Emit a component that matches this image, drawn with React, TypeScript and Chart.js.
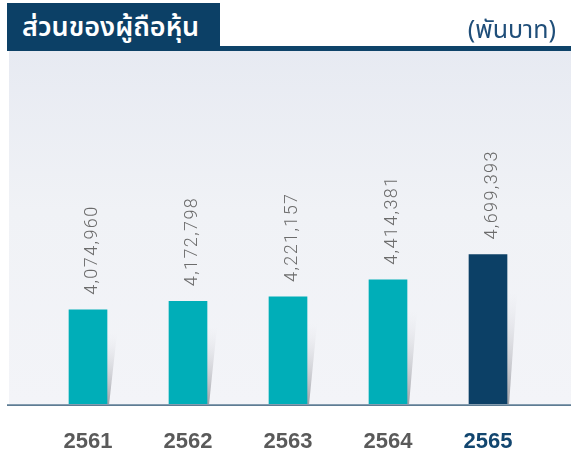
import React, { useEffect, useRef } from "react";
import { Chart, registerables } from "chart.js";

Chart.register(...registerables);

const TITLE = "ส่วนของผู้ถือหุ้น";
const UNIT = "(พันบาท)";
const years = ["2561", "2562", "2563", "2564", "2565"];
const equity = [4074960, 4172798, 4221157, 4414381, 4699393];
const barColors = ["#00AEB8", "#00AEB8", "#00AEB8", "#00AEB8", "#0C4066"];
const tickColors = ["#5a5a5a", "#5a5a5a", "#5a5a5a", "#5a5a5a", "#12466F"];
const Y_MIN = 3000000;
const Y_MAX = 7000000;

const NAVY = "#0C4066";

const decorPlugin = {
  id: "decor",
  beforeDraw(chart: any) {
    const { ctx, chartArea } = chart;
    ctx.save();
    const g = ctx.createLinearGradient(0, 51, 0, chartArea.bottom);
    g.addColorStop(0, "#E7EAF2");
    g.addColorStop(0.45, "#F0F2F6");
    g.addColorStop(1, "#F3F4F8");
    ctx.fillStyle = g;
    ctx.fillRect(9, 51, chart.width - 9, chartArea.bottom - 51);
    ctx.restore();
  },
  beforeDatasetsDraw(chart: any) {
    const { ctx, chartArea } = chart;
    const meta = chart.getDatasetMeta(0);
    ctx.save();
    meta.data.forEach((el: any) => {
      const r = el.x + el.width / 2;
      const b = Math.min(el.base, chartArea.bottom);
      const h = b - el.y;
      const sTop = el.y + 0.25 * h;
      const g = ctx.createLinearGradient(r, b, r + 9, sTop);
      g.addColorStop(0, "rgba(140,140,146,0.8)");
      g.addColorStop(0.6, "rgba(190,190,196,0.35)");
      g.addColorStop(1, "rgba(220,220,226,0)");
      ctx.fillStyle = g;
      ctx.beginPath();
      ctx.moveTo(r, sTop);
      ctx.lineTo(r + 10, sTop);
      ctx.lineTo(r + 2, b);
      ctx.lineTo(r, b);
      ctx.closePath();
      ctx.fill();
    });
    ctx.restore();
  },
  afterDatasetsDraw(chart: any) {
    const { ctx, chartArea } = chart;
    const meta = chart.getDatasetMeta(0);
    ctx.save();
    // baseline
    ctx.fillStyle = "#5E7C93";
    ctx.fillRect(7, chartArea.bottom - 1, chart.width - 7, 2);
    ctx.fillStyle = "#9FB2C2";
    ctx.fillRect(7, chartArea.bottom - 1, chart.width - 7, 0.6);
    // value labels
    ctx.fillStyle = "#6c6c6c";
    ctx.font = "300 18px Roboto, 'Liberation Sans', sans-serif";
    try {
      (ctx as any).letterSpacing = "1.4px";
    } catch (e) {}
    ctx.textAlign = "left";
    ctx.textBaseline = "alphabetic";
    meta.data.forEach((el: any, i: number) => {
      const v = equity[i];
      const label = v.toLocaleString("en-US");
      ctx.save();
      ctx.translate(el.x + 9, el.y - 15);
      ctx.rotate(-Math.PI / 2);
      ctx.fillText(label, 0, 0);
      ctx.restore();
    });
    ctx.restore();
  },
};

function ChartCanvas() {
  const ref = useRef<HTMLCanvasElement | null>(null);
  useEffect(() => {
    if (!ref.current) return;
    const chart = new Chart(ref.current, {
      type: "bar",
      data: {
        labels: years,
        datasets: [
          {
            data: equity,
            backgroundColor: barColors,
            borderWidth: 0,
            barThickness: 38,
          },
        ],
      },
      options: {
        animation: false,
        responsive: false,
        devicePixelRatio: 1,
        layout: { padding: { left: 38, right: 33, top: 51, bottom: 0 } },
        plugins: {
          legend: { display: false },
          tooltip: { enabled: false },
          title: { display: false },
        },
        scales: {
          x: {
            grid: { display: false, drawTicks: false },
            border: { display: false },
            ticks: {
              padding: 24,
              color: (c: any) => tickColors[c.index] || "#5a5a5a",
              font: { family: "'Liberation Sans', Arial, sans-serif", size: 22, weight: "bold" },
            },
            afterFit: (scale: any) => {
              scale.height = 48;
            },
          },
          y: {
            display: false,
            min: Y_MIN,
            max: Y_MAX,
          },
        },
      },
      plugins: [decorPlugin],
    });
    return () => chart.destroy();
  }, []);
  return <canvas ref={ref} width={571} height={453} style={{ position: "absolute", left: 0, top: 0 }} />;
}

export default function App() {
  return (
    <div
      style={{
        position: "fixed",
        left: 0,
        top: 0,
        width: 571,
        height: 453,
        background: "#ffffff",
        overflow: "hidden",
      }}
    >
      <ChartCanvas />
      <div
        style={{
          position: "absolute",
          left: 7,
          top: 3,
          width: 213,
          height: 48,
          background: NAVY,
          color: "#ffffff",
          fontFamily: "'Noto Sans Thai', 'Noto Sans', 'DejaVu Sans', sans-serif",
          fontSize: 27,
          fontWeight: 600,
          lineHeight: "50px",
          paddingLeft: 15,
          boxSizing: "border-box",
          whiteSpace: "nowrap",
        }}
      >
        {TITLE}
      </div>
      <div
        style={{
          position: "absolute",
          left: 220,
          top: 46,
          width: 351,
          height: 5,
          background: "#0E4369",
        }}
      />
      <div
        style={{
          position: "absolute",
          right: 15,
          top: 13,
          color: "#1F4E79",
          fontFamily: "'Noto Sans Thai', 'Noto Sans', 'DejaVu Sans', sans-serif",
          fontSize: 25,
          lineHeight: "34px",
          whiteSpace: "nowrap",
        }}
      >
        {UNIT}
      </div>
    </div>
  );
}
